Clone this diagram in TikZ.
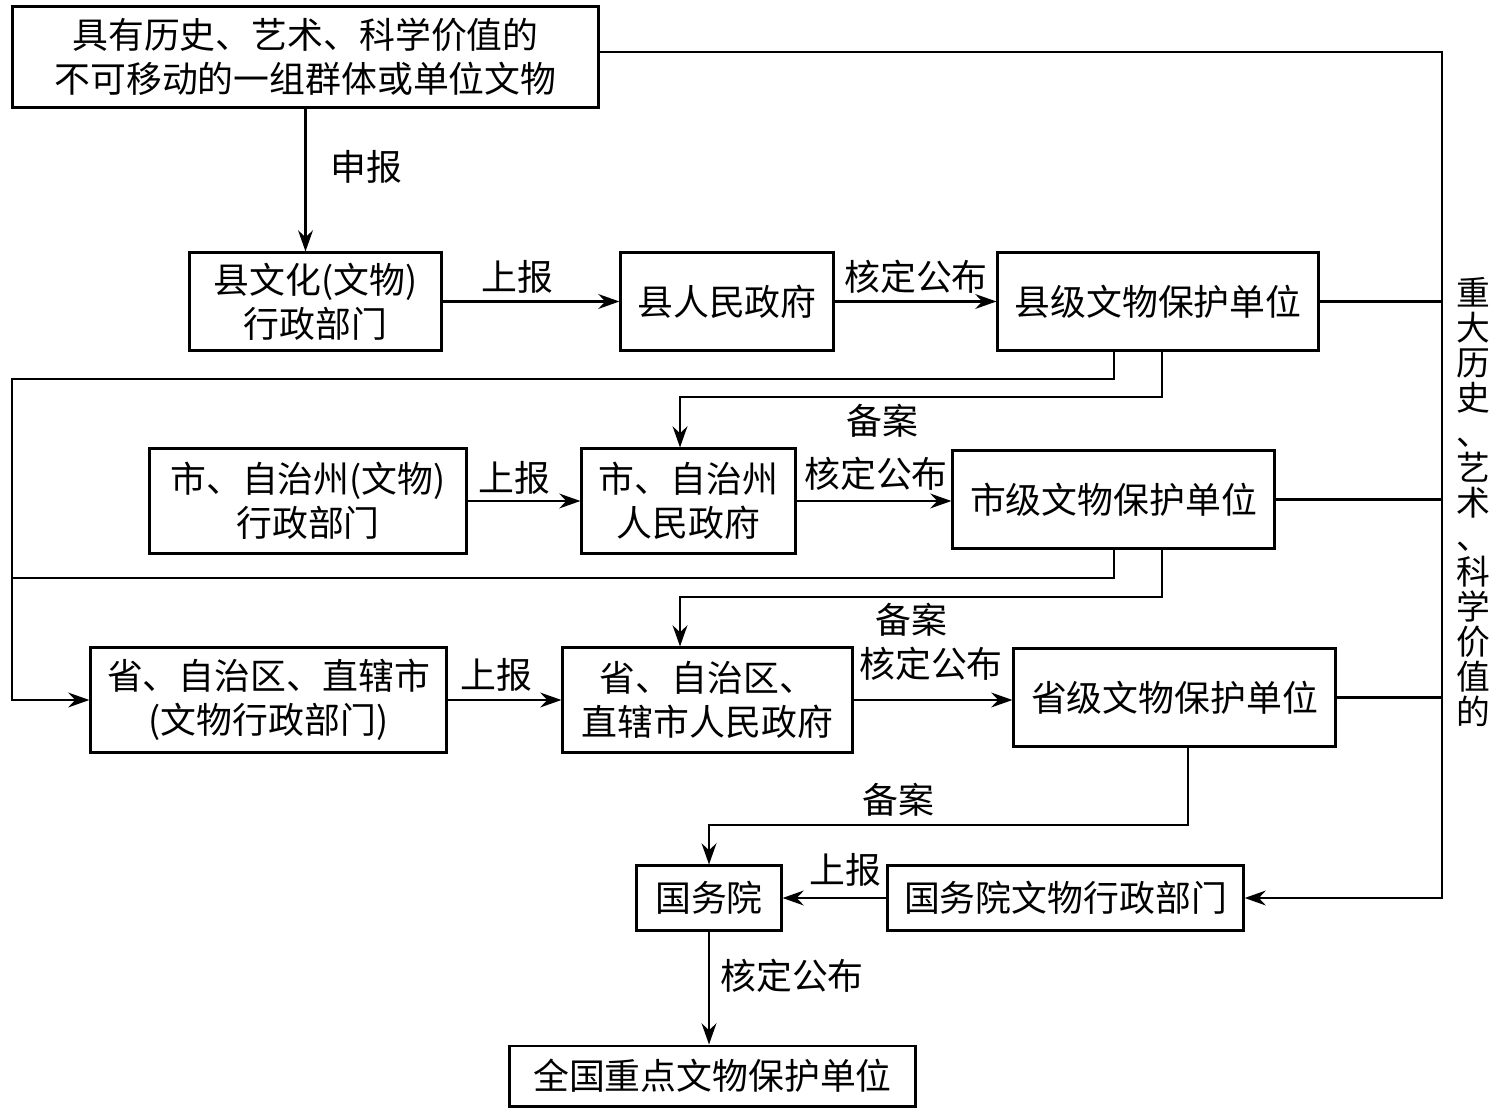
\documentclass[tikz,border=0pt]{standalone}
\usepackage{fontspec}
\newfontfamily\cjk{Noto Sans CJK SC}
\usetikzlibrary{arrows.meta, positioning, calc}

\begin{document}
\begin{tikzpicture}[
    x=0.01cm, y=-0.01cm, >={Stealth[length=6pt, width=4.2pt]},
    line width=0.75pt,
    box/.style={draw, line width=0.85pt, align=center, inner sep=0pt,
                font=\cjk\fontsize{10.2}{12.6}\selectfont},
    lbl/.style={inner sep=0pt, font=\cjk\fontsize{10.2}{12.6}\selectfont}
  ]
  \useasboundingbox (0,0) rectangle (1501,1116);

  % boxes
  \node[box, minimum width=5.85cm, minimum height=1.00cm] (obj) at (305.5,57)
    {具有历史、艺术、科学价值的\\不可移动的一组群体或单位文物};

  \node[box, minimum width=2.51cm, minimum height=0.97cm] (xwh) at (315.5,301.5)
    {县文化(文物)\\行政部门};
  \node[box, minimum width=2.12cm, minimum height=0.97cm] (xzf) at (727,301.5)
    {县人民政府};
  \node[box, minimum width=3.20cm, minimum height=0.97cm] (xdw) at (1158,301.5)
    {县级文物保护单位};

  \node[box, minimum width=3.16cm, minimum height=1.04cm] (swh) at (308,501)
    {市、自治州(文物)\\行政部门};
  \node[box, minimum width=2.13cm, minimum height=1.04cm] (szf) at (688.5,501)
    {市、自治州\\人民政府};
  \node[box, minimum width=3.21cm, minimum height=0.97cm] (sdw) at (1113.5,499.5)
    {市级文物保护单位};

  \node[box, minimum width=3.55cm, minimum height=1.04cm] (pwh) at (268.5,700)
    {省、自治区、直辖市\\(文物行政部门)};
  \node[box, minimum width=2.89cm, minimum height=1.04cm] (pzf) at (707.5,700)
    {省、自治区、\\直辖市人民政府};
  \node[box, minimum width=3.21cm, minimum height=0.97cm] (pdw) at (1174.5,697.5)
    {省级文物保护单位};

  \node[box, minimum width=1.44cm, minimum height=0.64cm] (gwy) at (709,898)
    {国务院};
  \node[box, minimum width=3.55cm, minimum height=0.64cm] (gwh) at (1065.5,898)
    {国务院文物行政部门};
  \node[box, minimum width=4.05cm, minimum height=0.60cm] (qgdw) at (712.5,1076)
    {全国重点文物保护单位};

  % helper points
  \coordinate (rx) at (1442,0);
  \coordinate (c1) at (1114,0);
  \coordinate (c3) at (680,0);
  \coordinate (ly1) at (12,379);
  \coordinate (ly2) at (12,578);
  \coordinate (bk1) at (1162,397);
  \coordinate (bk2) at (1162,597);
  \coordinate (bk3) at (1188,825);

  % main chain
  \draw[->] (obj.south) -- (obj.south |- xwh.north);
  \draw[->] (xwh) -- (xzf);
  \draw[->] (xzf) -- (xdw);
  \draw[->] (swh) -- (szf);
  \draw[->] (szf.east) -- (szf.east -| sdw.west);
  \draw[->] (pwh) -- (pzf);
  \draw[->] (pzf.east) -- (pzf.east -| pdw.west);
  \draw[->] (gwh) -- (gwy);
  \draw[->] (gwy.south) -- (gwy.south |- qgdw.north);

  % right side line
  \draw[->] ([yshift=0.05cm]obj.east) -| (gwh.east -| rx) -- (gwh.east);
  \draw (xdw.east) -- (xdw.east -| rx);
  \draw (sdw.east) -- (sdw.east -| rx);
  \draw (pdw.east) -- (pdw.east -| rx);

  % left loop
  \draw[->] (xdw.south -| c1) |- (ly1) |- (pwh.west);
  \draw (sdw.south -| c1) |- (ly2);

  % filing
  \draw[->] (xdw.south -| bk1) -- (bk1) -| (szf.north -| c3);
  \draw[->] (sdw.south -| bk2) -- (bk2) -| (pzf.north -| c3);
  \draw[->] (pdw.south -| bk3) -- (bk3) -| (gwy.north);

  % labels
  \node[lbl] (l1) at (366,167) {申报};
  \node[lbl] (l2) at (517,277) {上报};
  \node[lbl] (l3) at (916,277) {核定公布};
  \node[lbl] (l4) at (882,421) {备案};
  \node[lbl] (l5) at (514,478) {上报};
  \node[lbl] (l6) at (876,474) {核定公布};
  \node[lbl] (l7) at (911,620) {备案};
  \node[lbl] (l8) at (496,675) {上报};
  \node[lbl] (l9) at (931,664) {核定公布};
  \node[lbl] (l10) at (898,800) {备案};
  \node[lbl] (l11) at (845,870) {上报};
  \node[lbl] (l12) at (792,976) {核定公布};

  \node[lbl, align=center, font=\cjk\fontsize{9.6}{9.95}\selectfont] (vt) at (1473,502)
    {重\\大\\历\\史\\、\\艺\\术\\、\\科\\学\\价\\值\\的};
\end{tikzpicture}
\end{document}
